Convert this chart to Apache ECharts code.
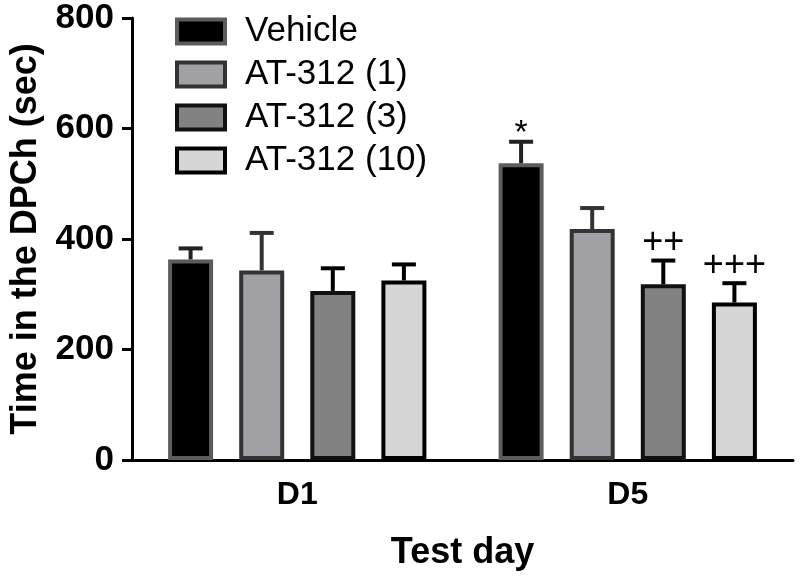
<!DOCTYPE html>
<html>
<head>
<meta charset="utf-8">
<script src="https://cdn.jsdelivr.net/npm/echarts@6/dist/echarts.min.js"></script>
<style>html,body{margin:0;padding:0;background:#fff}#c{width:800px;height:581px}</style>
</head>
<body>
<div id="c"></div>
<script>
// ---- data ----
const categories = ['D1', 'D5'];
const seriesNames = ['Vehicle', 'AT-312 (1)', 'AT-312 (3)', 'AT-312 (10)'];
const vehicle = [363, 537];
const at312_1 = [343, 418];
const at312_3 = [306, 318];
const at312_10 = [325, 285];
const vehicleErr = [20, 39];
const at312_1Err = [68, 38];
const at312_3Err = [41, 43];
const at312_10Err = [29, 35];
const vehicleMarks = ['', '*'];
const at312_1Marks = ['', ''];
const at312_3Marks = ['', '++'];
const at312_10Marks = ['', '+++'];
const yMin = 0, yMax = 800, yInterval = 200;

// ---- styles ----
const FONT = '"Liberation Sans", Arial, Helvetica, sans-serif';
const fills = ['#000000', '#a1a1a5', '#828282', '#d6d6d6'];
const borders = ['#5c5c5c', '#333333', '#111111', '#000000'];
const errColors = ['#222222', '#333333', '#000000', '#000000'];
const BAR_W = 45, BAR_GAP = 0.58, BORDER = 4, CAP_HALF = 12;
const STEP = BAR_W * (1 + BAR_GAP);

const means = [vehicle, at312_1, at312_3, at312_10];
const errs = [vehicleErr, at312_1Err, at312_3Err, at312_10Err];
const marks = [vehicleMarks, at312_1Marks, at312_3Marks, at312_10Marks];

const errData = [];
const errMarks = [];
means.forEach((arr, si) => arr.forEach((v, ci) => {
  errData.push([ci, v, errs[si][ci], si]);
  errMarks.push(marks[si][ci]);
}));

const barSeries = seriesNames.map((name, i) => ({
  name: name,
  type: 'bar',
  data: means[i],
  barWidth: BAR_W,
  barGap: (BAR_GAP * 100) + '%',
  itemStyle: { color: fills[i], borderColor: borders[i], borderWidth: BORDER },
  emphasis: { disabled: true },
  z: 2
}));

const errSeries = {
  type: 'custom',
  data: errData,
  z: 3,
  silent: true,
  renderItem: function (params, api) {
    const ci = api.value(0), m = api.value(1), e = api.value(2), si = api.value(3);
    const b = api.coord([ci, m]);
    const t = api.coord([ci, m + e]);
    const x = b[0] + (si - 1.5) * STEP;
    const col = errColors[si];
    const children = [
      { type: 'line', shape: { x1: x, y1: b[1], x2: x, y2: t[1] }, style: { stroke: col, lineWidth: 4 } },
      { type: 'line', shape: { x1: x - CAP_HALF, y1: t[1], x2: x + CAP_HALF, y2: t[1] }, style: { stroke: col, lineWidth: 4 } }
    ];
    const txt = errMarks[params.dataIndex];
    if (txt) {
      const dy = txt === '*' ? 8 : 17;
      children.push({
        type: 'text',
        style: { text: txt, x: x, y: t[1] - dy, align: 'center', verticalAlign: 'middle',
                 fontSize: txt === '*' ? 34 : 36, fontFamily: FONT, fill: '#000' }
      });
    }
    return { type: 'group', children: children };
  }
};

const chart = echarts.init(document.getElementById('c'), null, { renderer: 'canvas' });
chart.setOption({
  animation: false,
  backgroundColor: '#ffffff',
  grid: { left: 126, right: 7, top: 18, bottom: 121, containLabel: false },
  legend: {
    left: 170, top: 9, orient: 'vertical',
    icon: 'rect', itemWidth: 48, itemHeight: 24, itemGap: 8,
    selectedMode: false,
    textStyle: { fontSize: 35, fontFamily: FONT, color: '#000', padding: [0, 0, 0, 15] },
    data: seriesNames.map((n, i) => ({
      name: n,
      itemStyle: { color: fills[i], borderColor: borders[i], borderWidth: BORDER }
    }))
  },
  xAxis: {
    type: 'category',
    data: categories,
    name: 'Test day',
    nameLocation: 'middle',
    nameGap: 75,
    nameTextStyle: { fontSize: 36, fontWeight: 'bold', fontFamily: FONT, color: '#000' },
    axisLine: { lineStyle: { color: '#000', width: 3 } },
    axisTick: { alignWithLabel: true, length: 11, lineStyle: { color: '#000', width: 3 } },
    axisLabel: { fontSize: 32, fontWeight: 'bold', fontFamily: FONT, color: '#000', margin: 19 },
    splitLine: { show: false }
  },
  yAxis: {
    type: 'value',
    min: yMin, max: yMax, interval: yInterval,
    name: 'Time in the DPCh (sec)',
    nameLocation: 'middle',
    nameGap: 88,
    nameTextStyle: { fontSize: 36, fontWeight: 'bold', fontFamily: FONT, color: '#000' },
    axisLine: { show: true, lineStyle: { color: '#000', width: 3 } },
    axisTick: { show: true, length: 10, lineStyle: { color: '#000', width: 3 } },
    axisLabel: { fontSize: 35, fontWeight: 'bold', fontFamily: FONT, color: '#000', margin: 18 },
    splitLine: { show: false }
  },
  series: barSeries.concat([errSeries])
});
</script>
</body>
</html>
